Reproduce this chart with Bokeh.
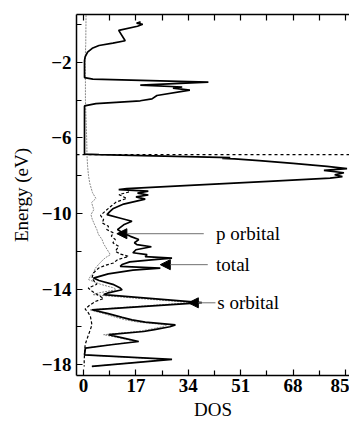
from bokeh.plotting import figure
from bokeh.models import Range1d, FixedTicker, Span, Arrow, NormalHead, Label, LinearAxis
from bokeh.embed import file_html
from bokeh.resources import INLINE

# ---- data ----
total_energy = [0.15, 0.08, 0.02, -0.08, -0.3, -0.85, -0.98, -1.1, -1.25, -1.45, -1.7, -1.9,
                -2.8, -2.88, -3.04, -3.2, -3.3, -3.36, -3.47, -3.75, -3.93, -4.03, -4.18, -4.3,
                -6.85, -6.88, -7.04, -7.08, -7.11, -7.2, -7.35, -7.5, -7.62, -7.72, -7.84, -7.95,
                -8.05, -8.13, -8.3, -8.5, -8.68, -8.74, -8.82, -8.92, -9.02, -9.12, -9.24, -9.5,
                -9.75, -9.9, -10.06, -10.25, -10.41, -10.6, -10.85, -11.0, -11.21, -11.38, -11.55,
                -11.65, -11.76, -11.92, -12.08, -12.18, -12.28, -12.36, -12.46, -12.56, -12.7,
                -12.8, -12.89, -13.0, -13.2, -13.42, -13.55, -13.75, -13.95, -14.04, -14.2, -14.3,
                -14.72, -15.1, -15.3, -15.5, -15.63, -15.75, -15.9, -16.0, -16.15, -16.25, -16.42,
                -16.6, -16.78, -16.95, -17.13, -17.49, -17.73, -18.1]
total_dos = [18.5, 17.2, 19.2, 17.5, 11.4, 13.5, 9.5, 5.0, 2.8, 1.3, 0.5, 0.3,
             0.3, 3.0, 40.5, 18.4, 32.0, 29.0, 34.5, 23.8, 22.2, 18.4, 4.0, 0.3,
             0.3, 5.0, 47.6, 45.0, 49.0, 57.0, 68.0, 79.0, 85.5, 78.0, 84.5, 81.5,
             84.0, 80.0, 60.0, 36.0, 14.0, 11.4, 21.0, 17.5, 21.0, 17.0, 20.0, 13.0,
             9.5, 8.5, 7.6, 12.0, 15.7, 13.0, 11.0, 12.5, 15.2, 17.9, 16.5,
             17.3, 22.0, 17.0, 16.0, 20.6, 20.0, 28.7, 22.0, 15.0, 12.5,
             11.9, 24.9, 16.0, 8.0, 3.2, 5.0, 9.5, 11.9, 12.5, 8.0, 6.5,
             38.4, 2.7, 8.0, 12.5, 15.7, 20.0, 29.8, 28.0, 23.0, 19.5, 8.1,
             13.0, 17.9, 9.0, 0.6, 0.3, 28.7, 2.7]

p_energy = [-8.7, -8.85, -9.0, -9.2, -9.4, -9.6, -9.88, -10.1, -10.32, -10.5, -10.68, -10.85,
            -11.03, -11.2, -11.38, -11.55, -11.74, -12.0, -12.15, -12.27, -12.45, -12.62, -12.75,
            -12.89, -13.15, -13.42, -13.6, -13.75, -13.95, -14.15, -14.35, -14.5, -14.65, -14.85,
            -15.06, -15.25, -15.45, -15.7, -15.9, -16.15, -16.42, -16.7, -16.95, -17.4, -17.8, -18.1]
p_dos = [14.0, 15.0, 11.5, 14.0, 10.5, 9.0, 7.0, 5.5, 6.5, 6.0, 8.1, 7.5,
         9.7, 9.0, 10.3, 9.5, 11.4, 10.3, 12.0, 14.6, 11.0, 9.7, 7.0,
         4.9, 3.2, 2.7, 3.5, 4.3, 1.5, 3.0, 5.0, 6.5, 4.0, 2.0,
         0.5, 1.5, 2.2, 2.5, 2.7, 2.2, 1.6, 1.0, 0.5, 0.3, 0.2, 0.2]

s_energy = [0.5, -1.0, -2.0, -3.0, -4.0, -5.0, -6.0, -6.9, -7.5, -8.0, -8.4, -8.9, -9.2, -9.42,
            -9.8, -10.06, -10.3, -10.6, -10.85, -11.1, -11.38, -11.6, -11.9, -12.18, -12.35,
            -12.6, -12.9, -13.15, -13.33, -13.5, -13.75, -13.95, -14.04, -14.2, -14.3, -14.72,
            -15.1, -15.3, -15.5, -15.63, -15.75, -15.9, -16.0, -16.15, -16.25, -16.42, -16.6,
            -16.78, -16.95, -17.13, -17.49, -17.73, -18.1]
s_dos = [0.8, 0.7, 0.5, 0.6, 0.6, 0.8, 1.0, 1.1, 1.3, 1.6, 2.0, 2.9, 4.0, 2.6,
         3.3, 2.4, 2.8, 3.6, 4.3, 4.8, 6.0, 6.5, 7.6, 8.7, 7.0,
         5.4, 3.8, 3.2, 2.2, 1.6, 5.5, 10.0, 10.5, 5.0, 3.0, 35.0,
         2.0, 6.5, 10.5, 13.5, 17.5, 27.0, 25.5, 21.0, 17.5, 6.5, 12.0,
         17.0, 8.5, 0.4, 0.2, 27.5, 2.5]

fermi_level = -6.88

x_ticks = [0, 17, 34, 51, 68, 85]
x_minor = [8.5, 25.5, 42.5, 59.5, 76.5]
y_ticks = [-2, -6, -10, -14, -18]
y_minor = [0, -4, -8, -12, -16]

x_title = "DOS"
y_title = "Energy (eV)"

label_texts = ["p orbital", "total", "s orbital"]
label_energy = [-11.07, -12.71, -14.73]
label_dos = [43.0, 43.0, 43.4]
arrow_tip_dos = [10.8, 24.9, 34.0]
arrow_tail_dos = [39.0, 40.3, 42.8]

SERIF = "Liberation Serif"

p = figure(width=349, height=426, output_backend="svg", toolbar_location=None,
           x_range=Range1d(-2.3, 86.3), y_range=Range1d(-18.58, 0.54),
           min_border_left=76, min_border_right=0, min_border_top=14, min_border_bottom=51,
           x_axis_label=x_title, y_axis_label=y_title)
p.grid.visible = False
p.outline_line_color = None
p.background_fill_color = "white"
p.border_fill_color = "white"

for ax, tk, mn in ((p.xaxis[0], x_ticks, x_minor), (p.yaxis[0], y_ticks, y_minor)):
    ax.ticker = FixedTicker(ticks=tk, minor_ticks=mn)
    ax.axis_line_width = 1.5
    ax.major_tick_in = 6
    ax.major_tick_out = 0
    ax.minor_tick_in = 5
    ax.minor_tick_out = 0
    ax.major_tick_line_width = 1.2
    ax.minor_tick_line_width = 1.2
    ax.major_label_text_font = SERIF
    ax.major_label_text_font_size = "19px"
    ax.major_label_text_font_style = "bold"
    ax.major_label_text_color = "black"
    ax.axis_label_text_font = SERIF
    ax.axis_label_text_font_size = "19px"
    ax.axis_label_text_font_style = "normal"
    ax.axis_label_text_color = "black"

p.xaxis[0].major_label_standoff = 3
p.xaxis[0].axis_label_standoff = 4
p.yaxis[0].major_label_standoff = 5
p.yaxis[0].axis_label_standoff = 7

# top spine with tick marks only (no labels)
top_axis = LinearAxis(ticker=FixedTicker(ticks=[], minor_ticks=x_ticks + x_minor),
                      axis_line_width=1.5, major_tick_in=0, major_tick_out=0,
                      minor_tick_in=6, minor_tick_out=0, minor_tick_line_width=1.2)
p.add_layout(top_axis, "above")

# Fermi level
p.add_layout(Span(location=fermi_level, dimension="width", line_color="black",
                  line_width=1.1, line_dash="3 3"))

# curves
p.line(s_dos, s_energy, line_color="#8a8a8a", line_width=1.0, line_dash="2 1")
p.line(p_dos, p_energy, line_color="black", line_width=1.2, line_dash="3 2")
p.line(total_dos, total_energy, line_color="black", line_width=1.7)

# annotations
for txt, ey, lx, tip, tail in zip(label_texts, label_energy, label_dos, arrow_tip_dos, arrow_tail_dos):
    p.add_layout(Arrow(x_start=tail, y_start=ey, x_end=tip, y_end=ey,
                       line_color="#707070", line_width=1.0,
                       end=NormalHead(size=10, fill_color="black", line_color="black")))
    p.add_layout(Label(x=lx, y=ey, text=txt, text_font=SERIF, text_font_size="19px",
                       text_baseline="middle", text_align="left", text_color="black"))

open("out.html", "w").write(file_html(p, INLINE))
